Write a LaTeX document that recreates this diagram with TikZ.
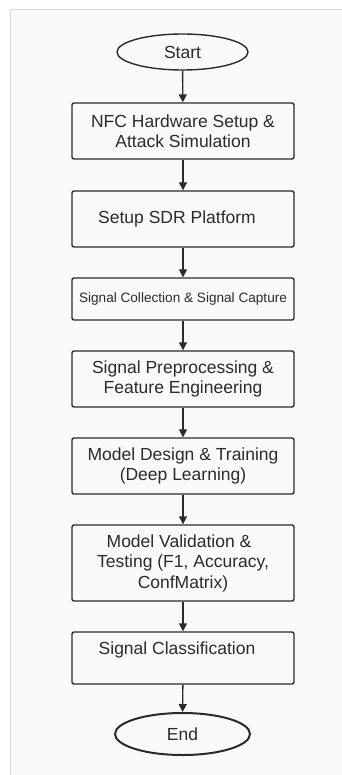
\documentclass[tikz,border=0pt]{standalone}
\usepackage{fontspec}
\setmainfont{Liberation Sans}
\usetikzlibrary{shapes.geometric,arrows.meta}
\definecolor{ink}{HTML}{2B2B2B}
\definecolor{framegray}{HTML}{D9D9D9}
\definecolor{panel}{HTML}{FAFAFA}
\tikzset{
  stepbox/.style={draw=ink, line width=1.4pt, rounded corners=2pt, rectangle,
    minimum width=222pt, inner sep=0pt, align=center, text=ink,
    font=\fontsize{17.5}{20.5}\selectfont},
  terminal/.style={draw=ink, ellipse, inner sep=0pt, text=ink,
    font=\fontsize{17.5}{20.5}\selectfont},
  arr/.style={draw=ink, line width=1.4pt, -{Triangle[length=8pt,width=8pt]}}
}
\begin{document}
\begin{tikzpicture}[x=1pt,y=-1pt]
  \useasboundingbox (0,0) rectangle (342,775);
  \fill[panel] (10,9) rectangle (342,775);
  \draw[framegray, line width=0.8pt] (10,775) -- (10,9) -- (342,9);

  \node[terminal, line width=1.4pt, minimum width=131pt, minimum height=36pt] (start) at (182.5,52) {Start};
  \node[stepbox, minimum height=56pt] (b1) at (183,131) {NFC Hardware Setup \&\\Attack Simulation};
  \node[stepbox, minimum height=56pt] (b2) at (183,219) {Setup SDR Platform\hspace*{12pt}};
  \node[stepbox, minimum height=42pt, font=\fontsize{13.6}{16}\selectfont] (b3) at (183,299) {Signal Collection \& Signal Capture};
  \node[stepbox, minimum height=56pt] (b4) at (183,379) {Signal Preprocessing \&\\Feature Engineering};
  \node[stepbox, minimum height=56pt] (b5) at (183,466) {Model Design \& Training\\(Deep Learning)};
  \node[stepbox, minimum height=76pt] (b6) at (183,563) {Model Validation \&\hspace*{8pt}\\Testing (F1, Accuracy,\\ConfMatrix)};
  \node[stepbox, minimum height=52pt] (b7) at (183,658) {Signal Classification\hspace*{12pt}\\\mbox{}};
  \node[terminal, line width=2pt, minimum width=135pt, minimum height=42pt] (end) at (182.5,734) {End};

  \draw[arr] (start) -- (b1);
  \draw[arr] (b1) -- (b2);
  \draw[arr] (b2) -- (b3);
  \draw[arr] (b3) -- (b4);
  \draw[arr] (b4) -- (b5);
  \draw[arr] (b5) -- (b6);
  \draw[arr] (b6) -- (b7);
  \draw[arr] (b7) -- (end);
\end{tikzpicture}
\end{document}
